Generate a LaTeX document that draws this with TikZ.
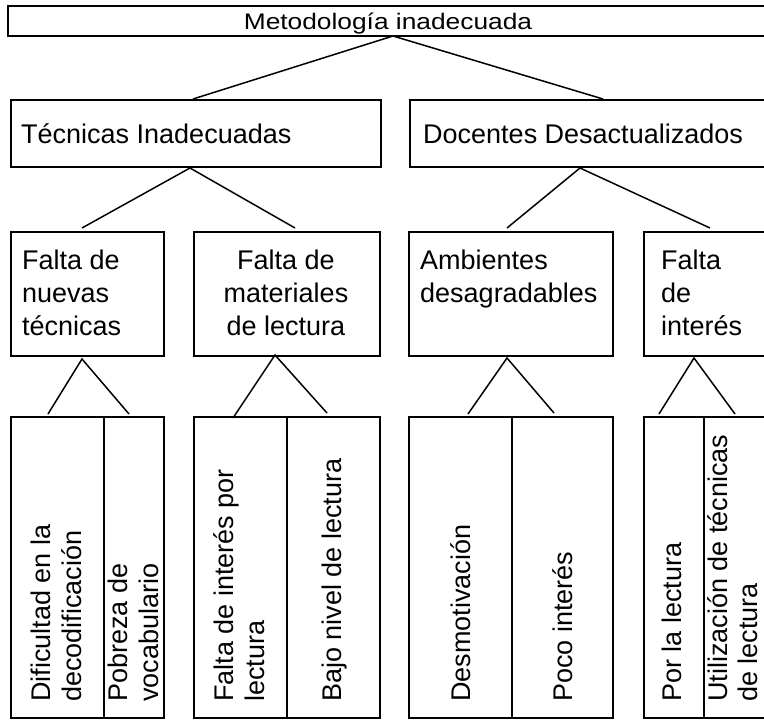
\documentclass[tikz,border=0pt]{standalone}
\usepackage{fontspec}
\setmainfont{Liberation Sans}
\usepackage{tikz}

\tikzset{
  caja/.style={draw, line width=2pt, inner sep=0pt, anchor=north west},
  rama/.style={line width=1.5pt},
  txt/.style={inner sep=0pt, font=\fontsize{27}{33}\selectfont},
  vtxt/.style={inner sep=0pt, font=\fontsize{27}{31}\selectfont, rotate=90, anchor=north west, align=left},
}

\begin{document}
\begin{tikzpicture}[x=1pt,y=-1pt]
\useasboundingbox (0,0) rectangle (764,720);
\clip (0,0) rectangle (764,720);

% cajas
\node[caja, minimum width=767pt, minimum height=30pt] (meto) at (7,5) {};
\node[caja, minimum width=370pt, minimum height=67pt] (tec) at (10,99) {};
\node[caja, minimum width=365pt, minimum height=67pt] (doc) at (409,99) {};
\node[caja, minimum width=153pt, minimum height=124pt] (falta1) at (10,231) {};
\node[caja, minimum width=186pt, minimum height=124pt] (falta2) at (193,231) {};
\node[caja, minimum width=204pt, minimum height=124pt] (amb) at (408,231) {};
\node[caja, minimum width=131pt, minimum height=124pt] (fint) at (643,231) {};

\node[caja, minimum width=93pt, minimum height=301pt] (difi) at (10,416) {};
\node[caja, minimum width=60pt, minimum height=301pt] (pobre) at (103,416) {};
\node[caja, minimum width=93pt, minimum height=301pt] (finter) at (193,416) {};
\node[caja, minimum width=93pt, minimum height=301pt] (bajo) at (286,416) {};
\node[caja, minimum width=103pt, minimum height=301pt] (desmo) at (408,416) {};
\node[caja, minimum width=101pt, minimum height=301pt] (poco) at (511,416) {};
\node[caja, minimum width=60pt, minimum height=301pt] (porla) at (643,416) {};
\node[caja, minimum width=71pt, minimum height=301pt] (utili) at (703,416) {};

% textos
\node[txt, anchor=base] (metoT) at (388,30) {\fontsize{22.5}{27}\selectfont\scalebox{1.17}[1]{Metodología inadecuada}};
\node[txt, anchor=base west] (tecT) at (21,143) {Técnicas Inadecuadas};
\node[txt, anchor=base west] (docT) at (423,143) {Docentes Desactualizados};
\node[txt, anchor=north west, align=left] (falta1T) at (22,250) {Falta de\\nuevas\\técnicas};
\node[txt, anchor=north, align=center] (falta2T) at (286,250) {Falta de\\materiales\\de lectura};
\node[txt, anchor=north west, align=left] (ambT) at (420,250) {Ambientes\\desagradables};
\node[txt, anchor=north west, align=left] (fintT) at (661,250) {Falta\\de\\interés};

\node[vtxt] (difiT) at (31,702) {Dificultad en la\\decodificación};
\node[vtxt] (pobreT) at (108,702) {Pobreza de\\vocabulario};
\node[vtxt] (finterT) at (213,702) {Falta de interés por\\lectura};
\node[vtxt] (bajoT) at (322,702) {Bajo nivel de lectura};
\node[vtxt] (desmoT) at (450,702) {Desmotivación};
\node[vtxt] (pocoT) at (552,702) {Poco interés};
\node[vtxt] (porlaT) at (662,702) {Por la lectura};
\node[vtxt, font=\fontsize{27}{30}\selectfont] (utiliT) at (707,702) {Utilización de técnicas\\de lectura};

% ramas
\coordinate (m0) at (393,36);  \coordinate (m1) at (193,99);  \coordinate (m2) at (603,99);
\coordinate (t0) at (190,168); \coordinate (t1) at (82,228);  \coordinate (t2) at (295,228);
\coordinate (d0) at (580,168); \coordinate (d1) at (507,228); \coordinate (d2) at (710,228);
\coordinate (a0) at (82,359);  \coordinate (a1) at (48,414);  \coordinate (a2) at (129,414);
\coordinate (b0) at (275,355); \coordinate (b1) at (233,418); \coordinate (b2) at (327,413);
\coordinate (c0) at (507,358); \coordinate (c1) at (468,414); \coordinate (c2) at (554,413);
\coordinate (e0) at (694,358); \coordinate (e1) at (659,414); \coordinate (e2) at (735,414);
\foreach \r in {m,t,d,a,b,c,e}
  \draw[rama] (\r1) -- (\r0) -- (\r2);
\end{tikzpicture}
\end{document}
